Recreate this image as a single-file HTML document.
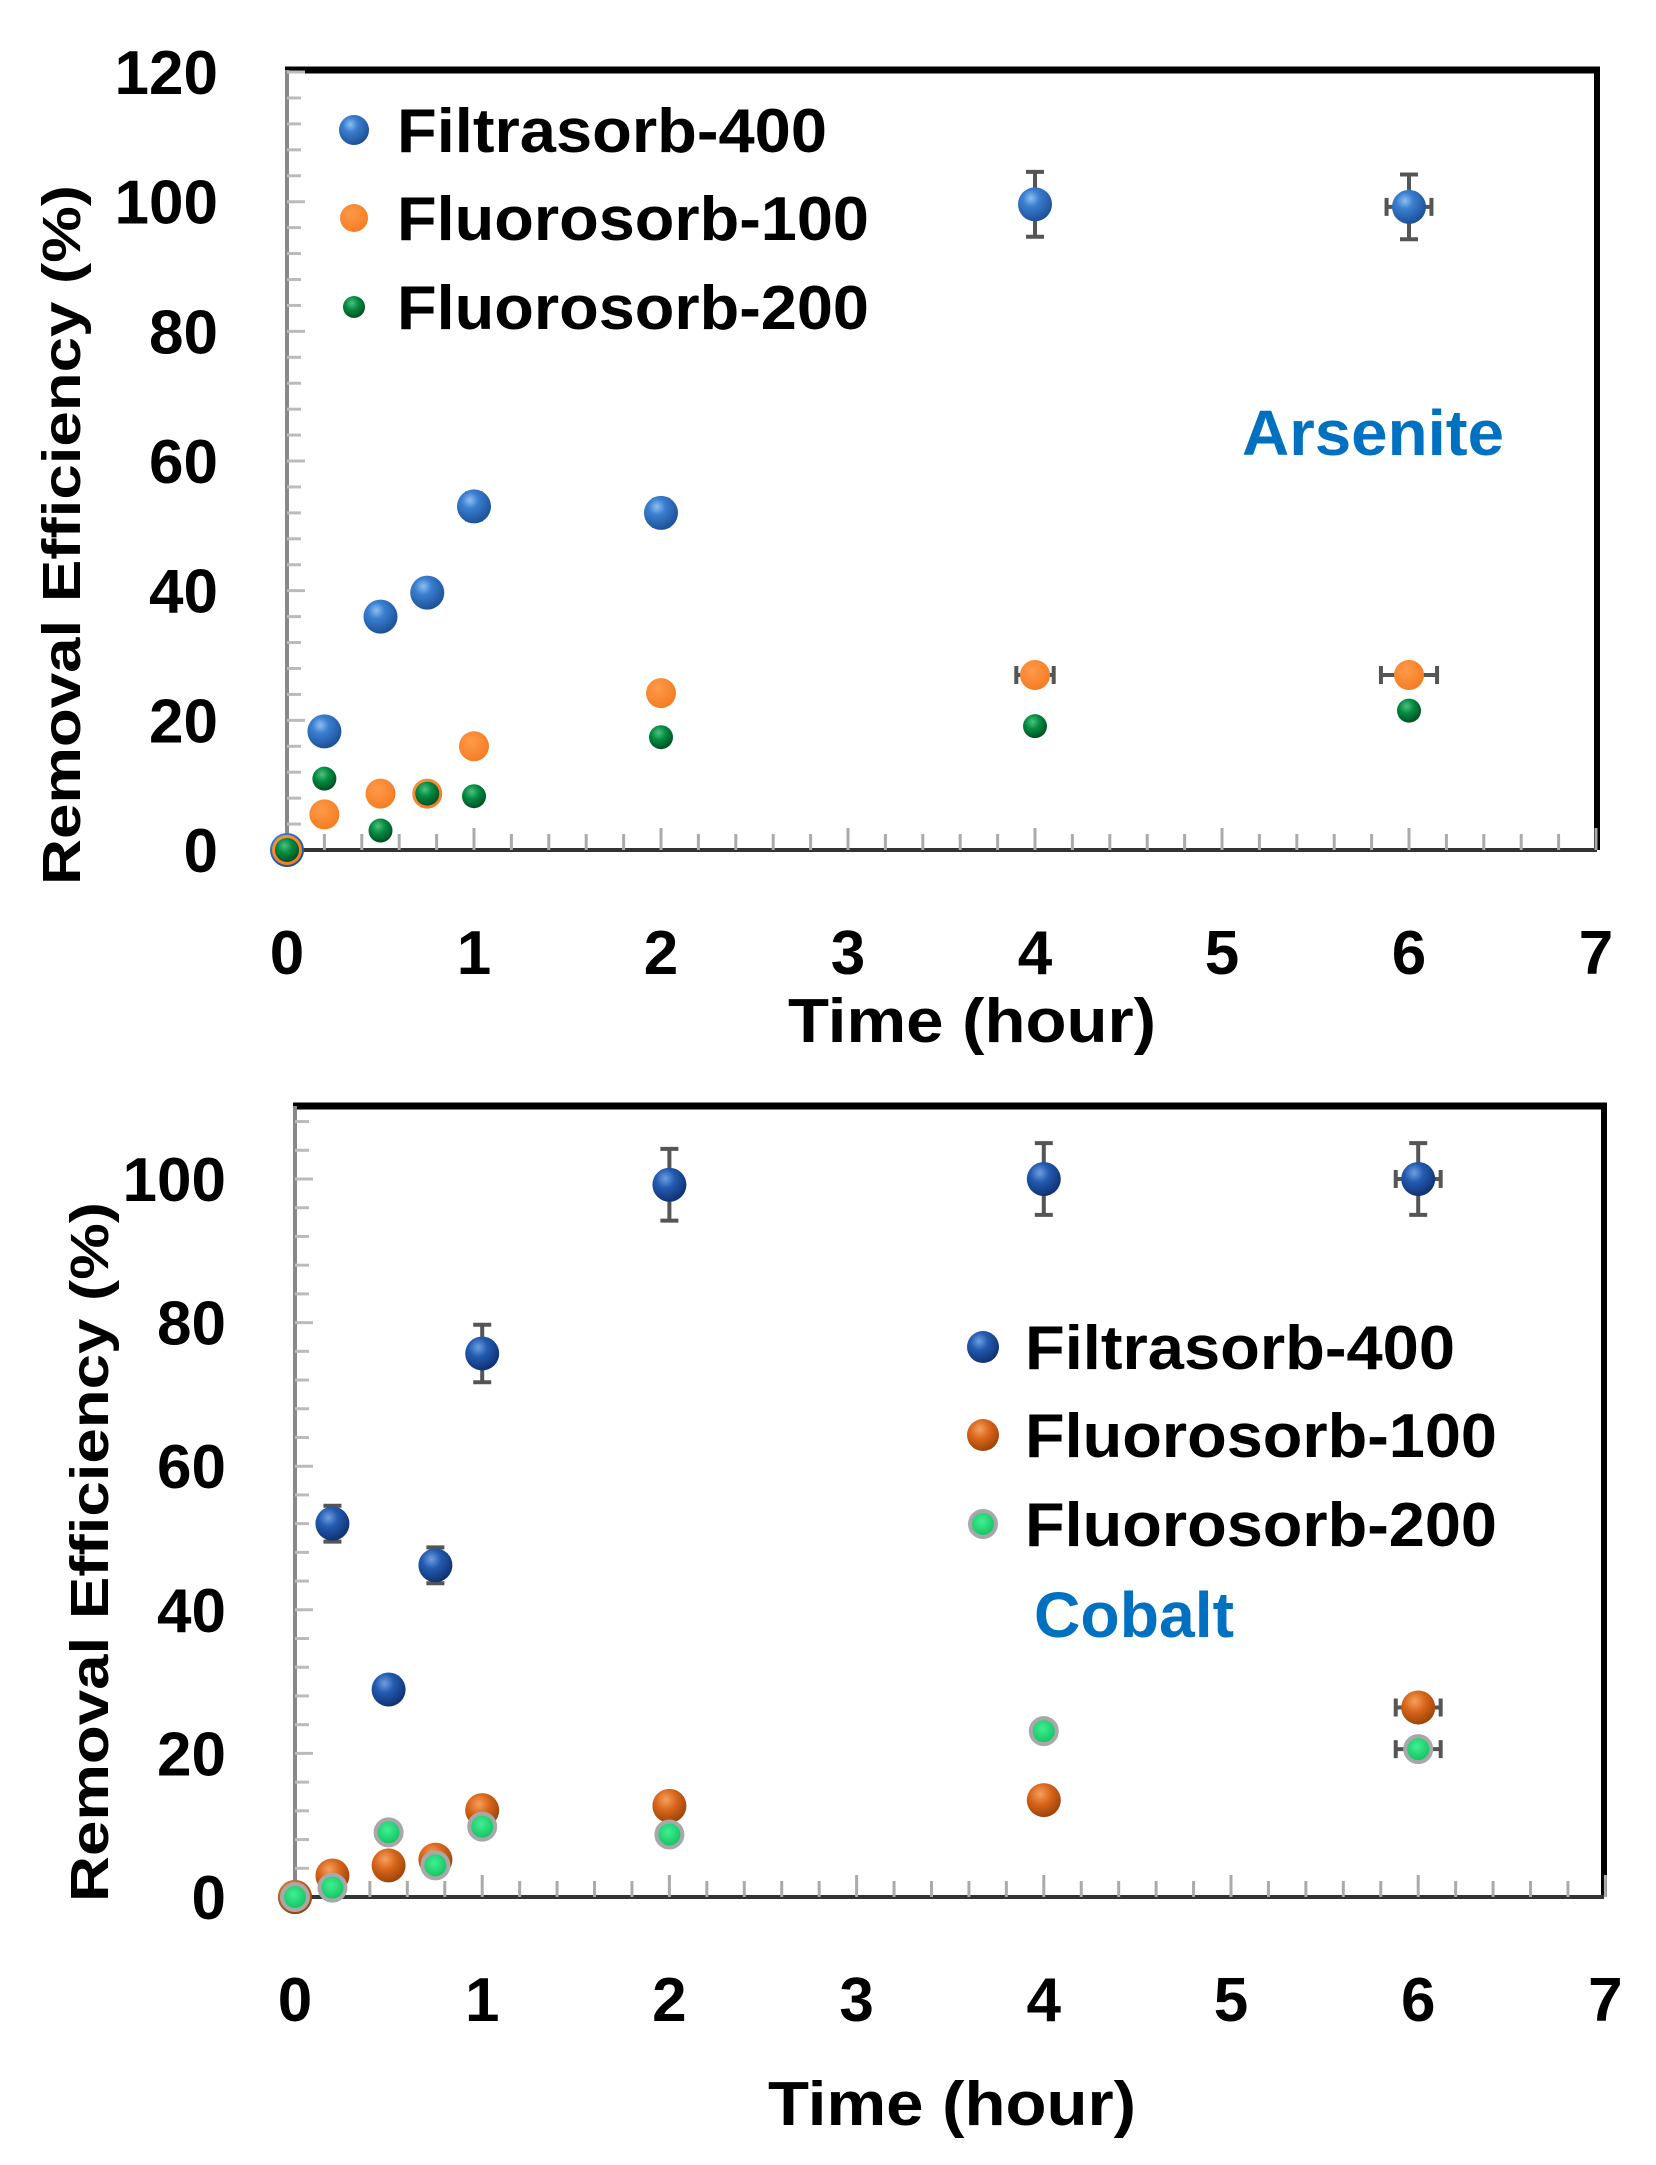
<!DOCTYPE html>
<html><head><meta charset="utf-8"><style>
html,body{margin:0;padding:0;background:#fff;}
svg{display:block;}
text{font-family:"Liberation Sans",sans-serif;font-weight:bold;}
</style></head><body>
<svg id="fig" width="1656" height="2165" viewBox="0 0 1656 2165" xmlns="http://www.w3.org/2000/svg">
<defs>
<radialGradient id="gBlue" cx="0.38" cy="0.32" r="0.7"><stop offset="0" stop-color="#8fc0f0"/><stop offset="0.35" stop-color="#3a7fd0"/><stop offset="1" stop-color="#1c4f96"/></radialGradient>
<radialGradient id="gBlue2" cx="0.38" cy="0.32" r="0.7"><stop offset="0" stop-color="#6f9fe0"/><stop offset="0.4" stop-color="#235bb0"/><stop offset="1" stop-color="#0f3170"/></radialGradient>
<radialGradient id="gOrange" cx="0.4" cy="0.35" r="0.7"><stop offset="0" stop-color="#ff9a4a"/><stop offset="1" stop-color="#f47b20"/></radialGradient>
<radialGradient id="gOrange2" cx="0.4" cy="0.32" r="0.7"><stop offset="0" stop-color="#f5a060"/><stop offset="0.45" stop-color="#d8661a"/><stop offset="1" stop-color="#9a4208"/></radialGradient>
<radialGradient id="gGreen" cx="0.4" cy="0.32" r="0.7"><stop offset="0" stop-color="#50c080"/><stop offset="0.45" stop-color="#008a40"/><stop offset="1" stop-color="#004d20"/></radialGradient>
<radialGradient id="gGreen2" cx="0.45" cy="0.4" r="0.6"><stop offset="0" stop-color="#40f090"/><stop offset="1" stop-color="#10c060"/></radialGradient>
</defs>
<g id="top"></g>
<g id="bot"></g>
</svg>
<script>
// ---- Arsenite (top) data ----
const topTimes = [0, 0.2, 0.5, 0.75, 1, 2, 4, 6];
const topF400 = [0, 18.3, 36, 39.7, 53, 52, 99.6, 99.2];
const topF400Err = [0, 0, 0, 0, 2, 2, 5, 5];
const topF400XErr = [0, 0, 0, 0, 0, 0, 0, 0.12];
const topF100 = [0, 5.5, 8.7, 8.7, 16, 24.2, 27, 27];
const topF100XErr = [0, 0, 0, 0, 0, 0, 0.1, 0.15];
const topF200 = [0, 11, 3, 8.7, 8.3, 17.4, 19.1, 21.5];
const topYTicks = [0, 20, 40, 60, 80, 100, 120];
const xTicks = [0, 1, 2, 3, 4, 5, 6, 7];
// ---- Cobalt (bottom) data ----
const botTimes = [0, 0.2, 0.5, 0.75, 1, 2, 4, 6];
const botF400 = [0, 52, 28.9, 46.2, 75.7, 99.2, 100, 100];
const botF400Err = [0, 2.5, 0, 2.5, 4, 5, 5, 5];
const botF400XErr = [0, 0, 0, 0, 0, 0, 0, 0.12];
const botF100 = [0, 3, 4.4, 5.2, 12.1, 12.7, 13.5, 26.4];
const botF100XErr = [0, 0, 0, 0, 0, 0, 0, 0.12];
const botF200 = [0, 1.3, 9, 4.4, 9.8, 8.7, 23.1, 20.6];
const botF200XErr = [0, 0, 0, 0, 0, 0, 0, 0.12];
const botYTicks = [0, 20, 40, 60, 80, 100];
const seriesNames = ["Filtrasorb-400", "Fluorosorb-100", "Fluorosorb-200"];

const NS = "http://www.w3.org/2000/svg";
function mk(parent, tag, attrs, txt){
  const e = document.createElementNS(NS, tag);
  for (const k in attrs) e.setAttribute(k, attrs[k]);
  if (txt !== undefined) e.textContent = txt;
  parent.appendChild(e);
  return e;
}

function drawChart(g, cfg){
  const sx = v => cfg.x0 + v * cfg.pxPerX;
  const sy = v => cfg.y0 - v * cfg.pxPerY;
  const top = mk(g, 'line', {x1: cfg.x0 - 2, y1: cfg.topY, x2: cfg.right + 3, y2: cfg.topY, stroke: '#000', 'stroke-width': 7});
  
  
  const rb = mk(g, 'line', {x1: cfg.right, y1: cfg.topY, x2: cfg.right, y2: cfg.y0, stroke: '#000', 'stroke-width': 6});
  
  
  const ya = mk(g, 'line', {x1: cfg.x0, y1: cfg.topY, x2: cfg.x0, y2: cfg.y0, stroke: '#888', 'stroke-width': 4});
  
  
  for (let v = 0; v <= cfg.yMax; v += 4){
    const major = v % 20 === 0;
    const t = mk(g, 'line', {x1: cfg.x0, y1: sy(v), x2: cfg.x0 + (major ? 18 : 14), y2: sy(v), stroke: '#bbb', 'stroke-width': 3});
    
    
  }
  cfg.yTicks.forEach(v => {
    const l = mk(g, 'text', {x: cfg.yLabelRight, y: sy(v) + 22, 'font-size': 62, 'text-anchor': 'end', fill: '#000'}, String(v));
    
    
  });
  const xa = mk(g, 'line', {x1: cfg.x0, y1: cfg.y0, x2: cfg.right, y2: cfg.y0, stroke: '#333', 'stroke-width': 4});
  
  
  for (let i = 1; i <= 35; i++){
    const v = i * 0.2;
    const major = i % 5 === 0;
    const t = mk(g, 'line', {x1: sx(v), y1: cfg.y0, x2: sx(v), y2: cfg.y0 - (major ? 22 : 16), stroke: '#aaa', 'stroke-width': 3});
    
    
  }
  xTicks.forEach(v => {
    const l = mk(g, 'text', {x: sx(v), y: cfg.xLabelY + 2, 'font-size': 62, 'text-anchor': 'middle', fill: '#000'}, String(v));
    
    
  });
  const xt = mk(g, 'text', {x: cfg.xTitleX, y: cfg.xTitleY, 'font-size': 62, 'text-anchor': 'middle', fill: '#000', textLength: 368, lengthAdjust: 'spacingAndGlyphs'}, 'Time (hour)');
  
  
  const yt = mk(g, 'text', {x: 0, y: 0, 'font-size': 54, 'text-anchor': 'middle', fill: '#000', textLength: cfg.yTitleLen, lengthAdjust: 'spacingAndGlyphs', transform: `translate(${cfg.yTitleX},${cfg.yTitleY}) rotate(-90)`}, 'Removal Efficiency (%)');
  
  
  cfg.series.forEach(s => {
    const sg = mk(g, 'g', {});
    
    
    s.vals.forEach((v, i) => {
      const cx = sx(cfg.times[i]), cy = sy(v);
      const ye = s.yerr ? s.yerr[i] : 0, xe = s.xerr ? s.xerr[i] : 0;
      if (ye > 0){
        const e = mk(sg, 'path', {d: `M${cx},${sy(v + ye)}V${sy(v - ye)}M${cx - 9},${sy(v + ye)}H${cx + 9}M${cx - 9},${sy(v - ye)}H${cx + 9}`, stroke: '#555', 'stroke-width': 4, fill: 'none'});
        
        
      }
      if (xe > 0){
        const e = mk(sg, 'path', {d: `M${sx(cfg.times[i] - xe)},${cy}H${sx(cfg.times[i] + xe)}M${sx(cfg.times[i] - xe)},${cy - 9}V${cy + 9}M${sx(cfg.times[i] + xe)},${cy - 9}V${cy + 9}`, stroke: '#555', 'stroke-width': 4, fill: 'none'});
        
        
      }
      const c = mk(sg, 'circle', {cx: cx, cy: cy, r: s.r, fill: s.fill, stroke: s.stroke || 'none', 'stroke-width': s.sw || 0});
      
      
    });
  });
  cfg.series.forEach((s, i) => {
    const ly = cfg.legY[i];
    const c = mk(g, 'circle', {cx: cfg.legMX, cy: ly, r: s.legR, fill: s.fill, stroke: s.stroke || 'none', 'stroke-width': s.sw || 0});
    
    
    const t = mk(g, 'text', {x: cfg.legTX, y: ly + 22, 'font-size': 62, fill: '#000', textLength: seriesNames[i] === 'Filtrasorb-400' ? 430 : 472, lengthAdjust: 'spacingAndGlyphs'}, seriesNames[i]);
    
    
  });
  const an = mk(g, 'text', {x: cfg.annX, y: cfg.annY, 'font-size': 64, fill: '#0070C0', textLength: cfg.annLen, lengthAdjust: 'spacingAndGlyphs'}, cfg.ann);
  
  
}

drawChart(document.getElementById('top'), {
  x0: 287, y0: 850, pxPerX: 187, pxPerY: 6.483, right: 1597, topY: 70, yMax: 120,
  yTicks: topYTicks, yLabelRight: 218, xLabelY: 972, xTitleX: 972, xTitleY: 1042,
  yTitleX: 80, yTitleY: 535, yTitleLen: 700, times: topTimes,
  series: [
    {name: 'series-filtrasorb-400', vals: topF400, yerr: topF400Err, xerr: topF400XErr, r: 17, legR: 15, fill: 'url(#gBlue)'},
    {name: 'series-fluorosorb-100', vals: topF100, xerr: topF100XErr, r: 15, legR: 14, fill: 'url(#gOrange)'},
    {name: 'series-fluorosorb-200', vals: topF200, r: 12, legR: 11, fill: 'url(#gGreen)'}
  ],
  legMX: 354, legTX: 397, legY: [130, 218, 307],
  ann: 'Arsenite', annX: 1242, annY: 455, annLen: 262
});
drawChart(document.getElementById('bot'), {
  x0: 295, y0: 1897, pxPerX: 187.2, pxPerY: 7.18, right: 1604, topY: 1106, yMax: 108,
  yTicks: botYTicks, yLabelRight: 226, xLabelY: 2019, xTitleX: 952, xTitleY: 2125,
  yTitleX: 108, yTitleY: 1552, yTitleLen: 700, times: botTimes,
  series: [
    {name: 'series-filtrasorb-400', vals: botF400, yerr: botF400Err, xerr: botF400XErr, r: 17, legR: 16, fill: 'url(#gBlue2)'},
    {name: 'series-fluorosorb-100', vals: botF100, xerr: botF100XErr, r: 17, legR: 16, fill: 'url(#gOrange2)'},
    {name: 'series-fluorosorb-200', vals: botF200, xerr: botF200XErr, r: 13, legR: 13, fill: 'url(#gGreen2)', stroke: '#a8a8a8', sw: 4}
  ],
  legMX: 983, legTX: 1025, legY: [1347, 1435, 1524],
  ann: 'Cobalt', annX: 1034, annY: 1637, annLen: 200
});
</script>
</body></html>
